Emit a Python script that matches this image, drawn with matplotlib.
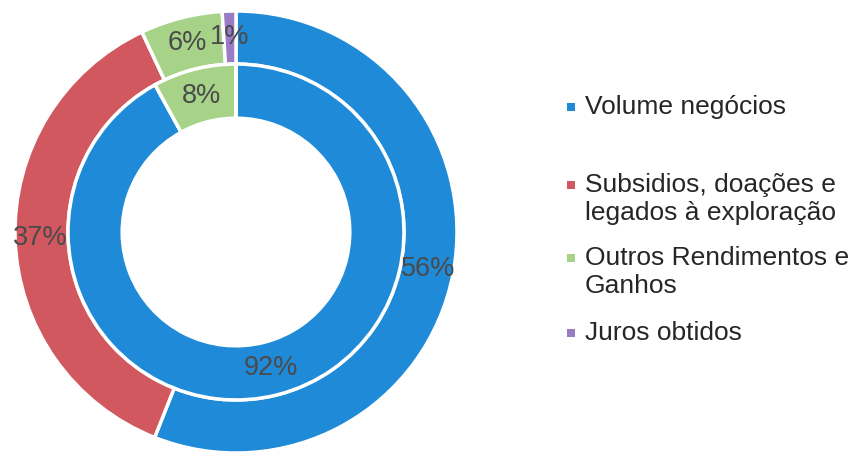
import matplotlib
matplotlib.use("Agg")
import matplotlib.pyplot as plt
from matplotlib.patches import Rectangle

plt.rcParams['font.family'] = ['Liberation Sans', 'DejaVu Sans']

categories = ["Volume negócios", "Subsidios, doações e\nlegados à exploração",
              "Outros Rendimentos e\nGanhos", "Juros obtidos"]
outer_values = [56, 37, 6, 1]
inner_values = [92, 0, 8, 0]
colors = ["#1F8AD8", "#D2585F", "#A7D389", "#9A7CC4"]

W, H = 859, 462
fig = plt.figure(figsize=(W / 100, H / 100), dpi=100)
cx, cy, R = 236, 232, 221
ax = fig.add_axes([(cx - R) / W, (H - cy - R) / H, 2 * R / W, 2 * R / H])
ax.set_xlim(-1, 1)
ax.set_ylim(-1, 1)
ax.set_aspect('equal')
ax.axis('off')

outer_w = 0.24
inner_r = 0.76
inner_w = 0.245

def fmt(p):
    return f"{p:.0f}%" if p > 0.5 else ""

wo, to, ao = ax.pie(outer_values, colors=colors, radius=1.0, startangle=90,
                    counterclock=False, autopct=fmt, pctdistance=0.885,
                    wedgeprops=dict(width=outer_w, edgecolor='white', linewidth=2.5),
                    textprops=dict(color='#4a4a4a', fontsize=19.5))
wi, ti, ai = ax.pie(inner_values, colors=colors, radius=inner_r, startangle=90,
                    counterclock=False, autopct=fmt, pctdistance=0.835,
                    wedgeprops=dict(width=inner_w, edgecolor='white', linewidth=2.5),
                    textprops=dict(color='#4a4a4a', fontsize=19.5))
ax.set_xlim(-1, 1)
ax.set_ylim(-1, 1)

# legend
ys_text = [107, 199, 272, 333]
ys_mark = [107, 185, 258, 333]
for lab, col, yt, ym in zip(categories, colors, ys_text, ys_mark):
    fig.patches.append(Rectangle((567 / W, (H - ym - 4) / H), 8 / W, 8 / H,
                                 transform=fig.transFigure, facecolor=col,
                                 edgecolor='none'))
    fig.text(585 / W, (H - yt) / H, lab, fontsize=19, color='#262626',
             va='center', ha='left', linespacing=1.25)

fig.savefig("out.png", dpi=100, facecolor='white')
